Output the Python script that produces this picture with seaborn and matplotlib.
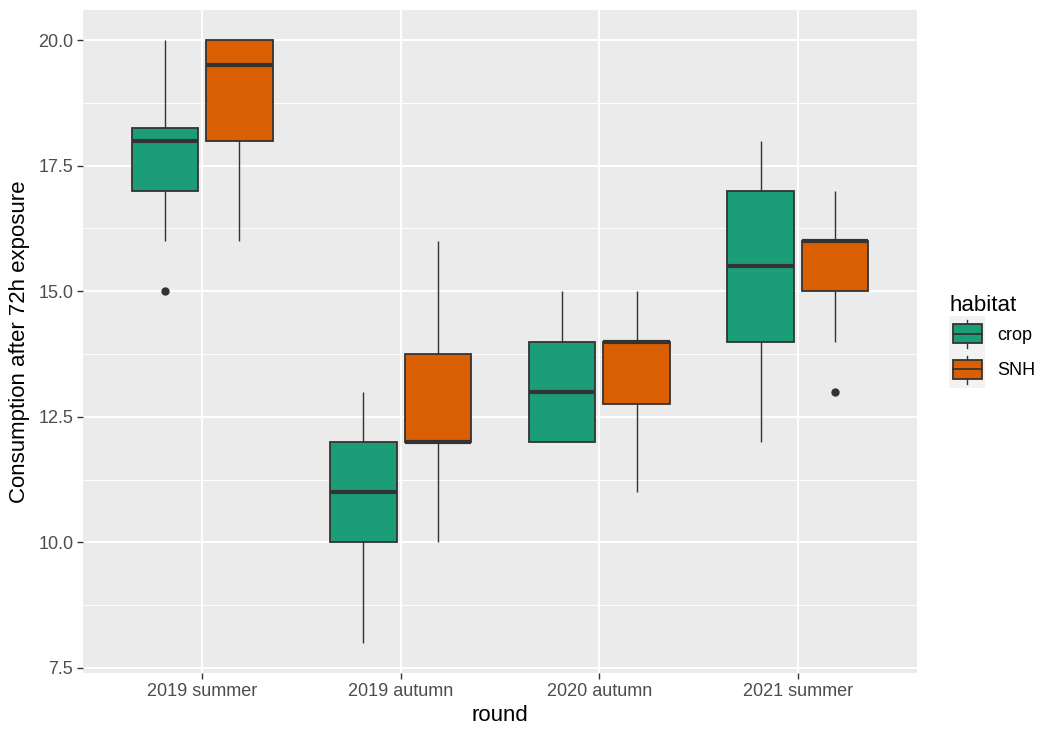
import numpy as np
import pandas as pd
import matplotlib
matplotlib.use('Agg')
import matplotlib.pyplot as plt
from matplotlib.patches import Patch, Rectangle
from matplotlib.lines import Line2D
from matplotlib.legend_handler import HandlerBase
from matplotlib.ticker import MultipleLocator, FormatStrFormatter
import seaborn as sns

# raw observations per round / habitat (read from box stats)
rounds = ['2019 summer', '2019 autumn', '2020 autumn', '2021 summer']
habitats = ['crop', 'SNH']

s19_crop = [15, 16, 17, 17, 17, 18, 18, 18, 18, 19, 20, 20]
s19_snh = [16, 18, 18, 19, 20, 20, 20, 20]
a19_crop = [8, 10, 10, 10, 11, 12, 12, 13, 13]
a19_snh = [10, 11, 12, 12, 12, 12, 13, 14, 15, 16]
a20_crop = [12, 12, 12, 13, 13, 14, 14, 15, 15]
a20_snh = [11, 12, 13, 14, 14, 14, 14, 15]
s21_crop = [12, 14, 14, 15, 16, 17, 17, 18]
s21_snh = [13, 14, 15, 15, 16, 16, 16, 17, 17]

groups = [
    ('2019 summer', 'crop', s19_crop), ('2019 summer', 'SNH', s19_snh),
    ('2019 autumn', 'crop', a19_crop), ('2019 autumn', 'SNH', a19_snh),
    ('2020 autumn', 'crop', a20_crop), ('2020 autumn', 'SNH', a20_snh),
    ('2021 summer', 'crop', s21_crop), ('2021 summer', 'SNH', s21_snh),
]
rows = []
for r, h, vals in groups:
    for v in vals:
        rows.append({'round': r, 'habitat': h, 'consumption': v})
df = pd.DataFrame(rows)

palette = {'crop': '#1B9E77', 'SNH': '#D95F02'}
EDGE = '#333333'

plt.rcParams['font.family'] = ['Liberation Sans', 'DejaVu Sans']

fig = plt.figure(figsize=(10.43, 7.31), dpi=100)
ax = fig.add_axes([83 / 1043, 1 - 673 / 731, (917 - 83) / 1043, (673 - 10) / 731])
ax.set_facecolor('#EBEBEB')

sns.boxplot(data=df, x='round', y='consumption', hue='habitat', order=rounds,
            hue_order=habitats, palette=palette, saturation=1, width=0.75, gap=0.11,
            linecolor=EDGE, linewidth=1.0, showcaps=False, legend=False,
            boxprops=dict(linewidth=1.3, edgecolor=EDGE),
            medianprops=dict(linewidth=3, color=EDGE),
            whiskerprops=dict(linewidth=1.0, color=EDGE),
            flierprops=dict(marker='o', markerfacecolor=EDGE, markeredgecolor=EDGE,
                            markersize=5),
            ax=ax)

ax.set_xlim(-0.6, 3.6)
ax.set_ylim(7.4, 20.6)
ax.yaxis.set_major_locator(MultipleLocator(2.5))
ax.yaxis.set_minor_locator(MultipleLocator(1.25))
ax.yaxis.set_major_formatter(FormatStrFormatter('%.1f'))
ax.set_axisbelow(True)
ax.grid(which='major', color='white', linewidth=1.4)
ax.grid(which='minor', axis='y', color='white', linewidth=0.7)
ax.tick_params(which='minor', length=0)
ax.tick_params(which='major', length=4, width=1.0, color=EDGE,
               labelsize=13, labelcolor='#4D4D4D', pad=3)
for sp in ax.spines.values():
    sp.set_visible(False)

ax.set_xlabel('round', fontsize=16, color='black', labelpad=4)
ax.set_ylabel('Consumption after 72h exposure', fontsize=16, color='black', labelpad=6)


class BoxKey(HandlerBase):
    # ggplot-like legend key: grey tile, whisker, box and median
    def create_artists(self, legend, orig, xd, yd, w, h, fontsize, trans):
        x0, y0 = -xd, -yd
        bg = Rectangle((x0, y0), w, h, facecolor='#F2F2F2', edgecolor='none',
                       transform=trans)
        wl = Line2D([x0 + w / 2] * 2, [y0 + h * 0.1, y0 + h * 0.9], color=EDGE,
                    linewidth=1.0, transform=trans)
        box = Rectangle((x0 + w * 0.1, y0 + h * 0.24), w * 0.8, h * 0.54,
                        facecolor=orig.get_facecolor(), edgecolor=EDGE,
                        linewidth=1.3, transform=trans)
        med = Line2D([x0 + w * 0.1, x0 + w * 0.9], [y0 + h * 0.51] * 2, color=EDGE,
                     linewidth=1.3, transform=trans)
        return [bg, wl, box, med]


handles = [Patch(facecolor=palette[h], label=h) for h in habitats]
leg = ax.legend(handles=handles, title='habitat', loc='center left',
                bbox_to_anchor=(1.03, 0.5), frameon=False, fontsize=13,
                title_fontsize=16, handlelength=2.0, handleheight=2.65,
                labelspacing=0, handletextpad=0.67, borderaxespad=0,
                handler_map={Patch: BoxKey()})
leg._legend_box.align = 'left'

fig.savefig('out.png', dpi=100)
